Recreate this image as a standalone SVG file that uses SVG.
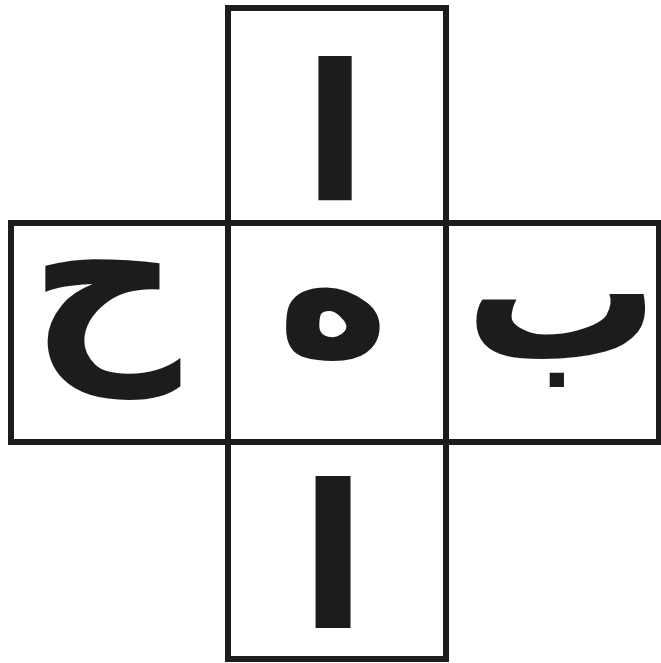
<svg xmlns="http://www.w3.org/2000/svg" width="661" height="663" viewBox="0 0 661 663">
<style>
.box{fill:none;stroke:#1c1c1c;stroke-width:6}
.ar{font-family:"DejaVu Sans",sans-serif;font-weight:bold;fill:#1c1c1c;text-anchor:middle}
</style>
<rect width="661" height="663" fill="#ffffff"/>
<g id="cell-top"><rect class="box" x="228" y="8" width="218" height="215"/><text class="ar" x="335" y="200" font-size="190">ا</text></g>
<g id="cell-left"><rect class="box" x="11" y="223" width="217" height="219"/><text class="ar" x="105" y="349" font-size="210">ح</text></g>
<g id="cell-center"><rect class="box" x="228" y="223" width="218" height="219"/><text class="ar" x="333" y="355" font-size="190">ه</text></g>
<g id="cell-right"><rect class="box" x="446" y="223" width="213" height="219"/><text class="ar" x="562" y="358" font-size="195">ب</text></g>
<g id="cell-bottom"><rect class="box" x="228" y="442" width="218" height="217"/><text class="ar" x="333" y="628" font-size="200">ا</text></g>
<g id="connectors"></g>
</svg>
